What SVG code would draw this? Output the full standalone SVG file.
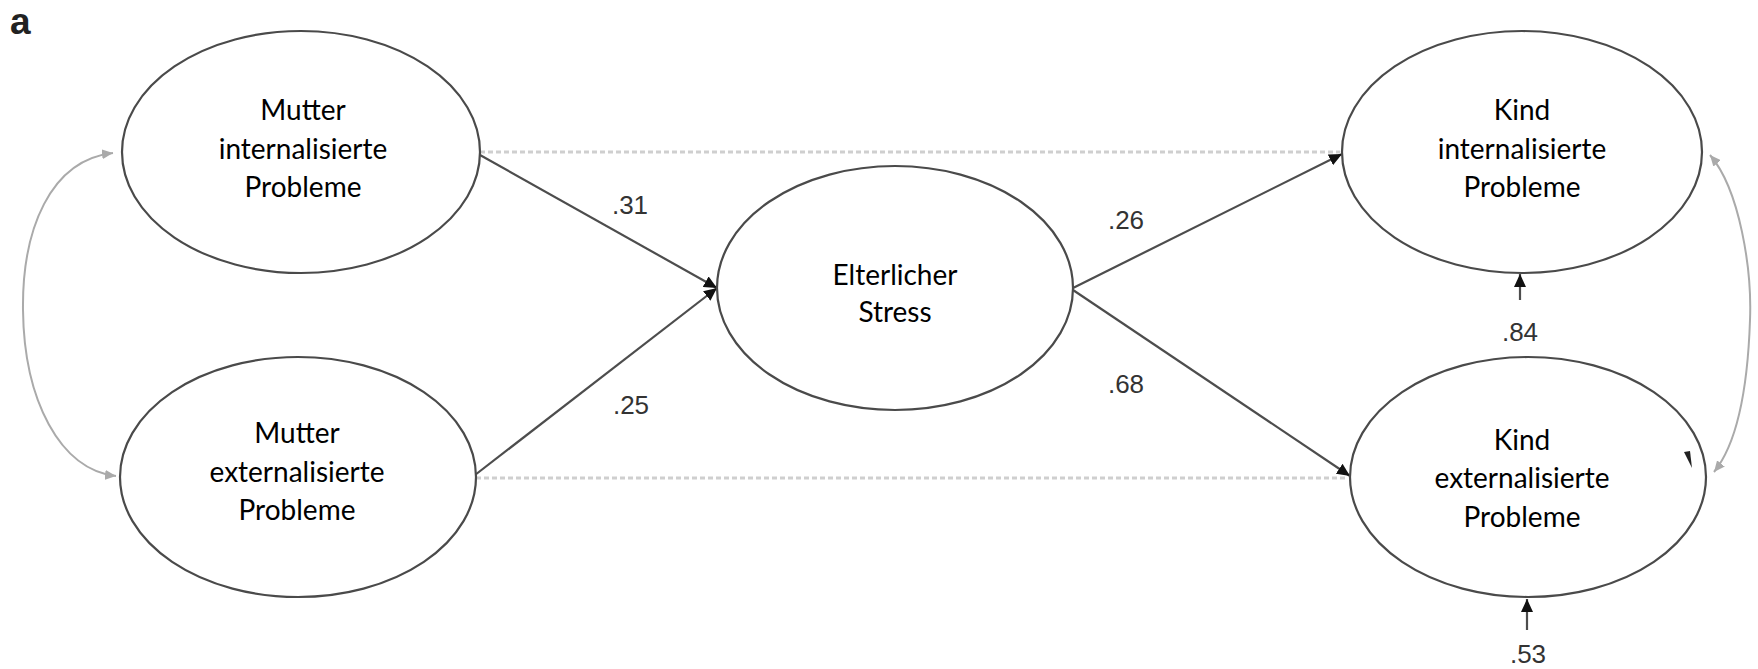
<svg xmlns="http://www.w3.org/2000/svg" width="1758" height="669" viewBox="0 0 1758 669">
<style>
.node ellipse{fill:#fff;stroke:#4a4a4a;stroke-width:2.2}
.node text{font-family:Lato,"Liberation Sans",sans-serif;font-size:28px;fill:#000;text-anchor:middle}
.path{fill:none;stroke:#4d4d4d;stroke-width:2.2}
.dash{fill:none;stroke:#cfcfcf;stroke-width:3;stroke-dasharray:5 3}
.cov{fill:none;stroke:#aaaaaa;stroke-width:2}
.lbl{font-family:"Liberation Sans",Arial,sans-serif;font-size:26px;fill:#333;text-anchor:middle}
.panel{font-family:"Liberation Sans",Arial,sans-serif;font-size:37px;font-weight:bold;fill:#222}
</style>
<defs>
<marker id="ah" markerUnits="userSpaceOnUse" markerWidth="14" markerHeight="12" refX="13" refY="6" orient="auto">
<path d="M0,0 L13,6 L0,12 Z" fill="#111"/>
</marker>
<marker id="ahg" markerUnits="userSpaceOnUse" markerWidth="12" markerHeight="10" refX="11" refY="5" orient="auto-start-reverse">
<path d="M0,0 L11,5 L0,10 Z" fill="#aaa"/>
</marker>
</defs>
<rect width="1758" height="669" fill="#fff"/>
<text class="panel" x="10" y="34">a</text>
<g id="connectors">
<path class="dash" d="M480 152 L1340 152"/>
<path class="dash" d="M476 478 L1348 478"/>
<path class="cov" d="M113 153 C50 160,22 230,23 310 C24 400,60 470,116 476" marker-start="url(#ahg)" marker-end="url(#ahg)"/>
<path class="cov" d="M1710 155 C1740 190,1752 270,1750 320 C1748 380,1740 440,1714 472" marker-start="url(#ahg)" marker-end="url(#ahg)"/>
<path class="path" d="M480 155 L717 288" marker-end="url(#ah)"/>
<path class="path" d="M475 475 L717 288" marker-end="url(#ah)"/>
<path class="path" d="M1073 288 L1342 154" marker-end="url(#ah)"/>
<path class="path" d="M1073 290 L1350 476" marker-end="url(#ah)"/>
<path class="path" d="M1520 300 L1520 274" marker-end="url(#ah)"/>
<path class="path" d="M1527 630 L1527 599" marker-end="url(#ah)"/>
</g>
<g id="n_mi" class="node">
<ellipse cx="301" cy="152" rx="179" ry="121"/>
<text x="303" y="120">Mutter</text>
<text x="303" y="159">internalisierte</text>
<text x="303" y="197">Probleme</text>
</g>
<g id="n_me" class="node">
<ellipse cx="298" cy="477" rx="178" ry="120"/>
<text x="297" y="443">Mutter</text>
<text x="297" y="482">externalisierte</text>
<text x="297" y="520">Probleme</text>
</g>
<g id="n_es" class="node">
<ellipse cx="895" cy="288" rx="178" ry="122"/>
<text x="895" y="285">Elterlicher</text>
<text x="895" y="322">Stress</text>
</g>
<g id="n_ki" class="node">
<ellipse cx="1522" cy="152" rx="180" ry="121"/>
<text x="1522" y="120">Kind</text>
<text x="1522" y="159">internalisierte</text>
<text x="1522" y="197">Probleme</text>
</g>
<g id="n_ke" class="node">
<ellipse cx="1528" cy="477" rx="178" ry="120"/>
<text x="1522" y="450">Kind</text>
<text x="1522" y="488">externalisierte</text>
<text x="1522" y="527">Probleme</text>
<path d="M1684 452 L1690 451 L1692 468 Z" fill="#222"/>
</g>
<g id="labels">
<text class="lbl" x="630" y="214">.31</text>
<text class="lbl" x="631" y="414">.25</text>
<text class="lbl" x="1126" y="229">.26</text>
<text class="lbl" x="1126" y="393">.68</text>
<text class="lbl" x="1520" y="341">.84</text>
<text class="lbl" x="1528" y="663">.53</text>
</g>
</svg>
